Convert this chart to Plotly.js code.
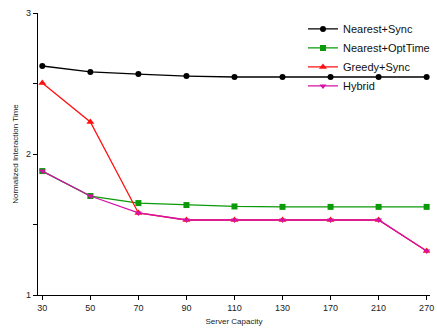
<!DOCTYPE html>
<html>
<head>
<meta charset="utf-8">
<script src="https://cdn.plot.ly/plotly-3.0.1.min.js"></script>
<style>html,body{margin:0;padding:0;background:#fff;}#chart{width:437px;height:328px;}</style>
</head>
<body>
<div id="chart"></div>
<script>
const capacities = ['30','50','70','90','110','130','170','210','270'];
const nearestSync = [2.624, 2.582, 2.567, 2.553, 2.546, 2.546, 2.546, 2.546, 2.546];
const nearestOptTime = [1.879, 1.702, 1.652, 1.638, 1.628, 1.625, 1.625, 1.625, 1.625];
const greedySync = [2.504, 2.227, 1.582, 1.532, 1.532, 1.532, 1.532, 1.532, 1.312];
const hybrid = [1.879, 1.702, 1.582, 1.532, 1.532, 1.532, 1.532, 1.532, 1.312];
const yTickVals = [1, 1.5, 2, 2.5, 3];
const yTickText = ['1', '', '2', '', '3'];

function series(name, y, color, symbol, size) {
  return {
    x: capacities, y: y, name: name, type: 'scatter', mode: 'lines+markers',
    line: {color: color, width: 1.3},
    marker: {color: color, symbol: symbol, size: size}
  };
}
const data = [
  series('Nearest+Sync', nearestSync, '#000000', 'circle', 6),
  series('Nearest+OptTime', nearestOptTime, '#0a9a0a', 'square', 6),
  series('Greedy+Sync', greedySync, '#ff1010', 'triangle-up', 7),
  series('Hybrid', hybrid, '#d411a8', 'triangle-down', 6)
];
const layout = {
  width: 437, height: 328,
  margin: {l: 38, r: 7, t: 13, b: 33, autoexpand: false},
  paper_bgcolor: '#fff', plot_bgcolor: '#fff',
  font: {family: 'Liberation Sans, Arial, sans-serif', color: '#222', size: 9},
  showlegend: true,
  legend: {x: 0.676, y: 0.995, xanchor: 'left', yanchor: 'top',
           font: {size: 11, color: '#111'}, bgcolor: 'rgba(0,0,0,0)',
           tracegroupgap: 0, itemwidth: 30},
  xaxis: {
    type: 'category', range: [-0.09, 8.07],
    showgrid: false, zeroline: false,
    showline: true, linecolor: '#000', linewidth: 1.3,
    ticks: 'outside', ticklen: 4, tickcolor: '#000', tickwidth: 1,
    tickfont: {size: 9},
    title: {text: 'Server Capacity', font: {size: 8}, standoff: 6}
  },
  yaxis: {
    range: [1, 3], tickvals: yTickVals, ticktext: yTickText,
    showgrid: false, zeroline: false,
    showline: true, linecolor: '#000', linewidth: 1.3,
    ticks: 'outside', ticklen: 4, tickcolor: '#000', tickwidth: 1,
    tickfont: {size: 9},
    title: {text: 'Normalized Interaction Time', font: {size: 8}, standoff: 6}
  }
};
Plotly.newPlot('chart', data, layout, {displayModeBar: false, staticPlot: true});
</script>
</body>
</html>
